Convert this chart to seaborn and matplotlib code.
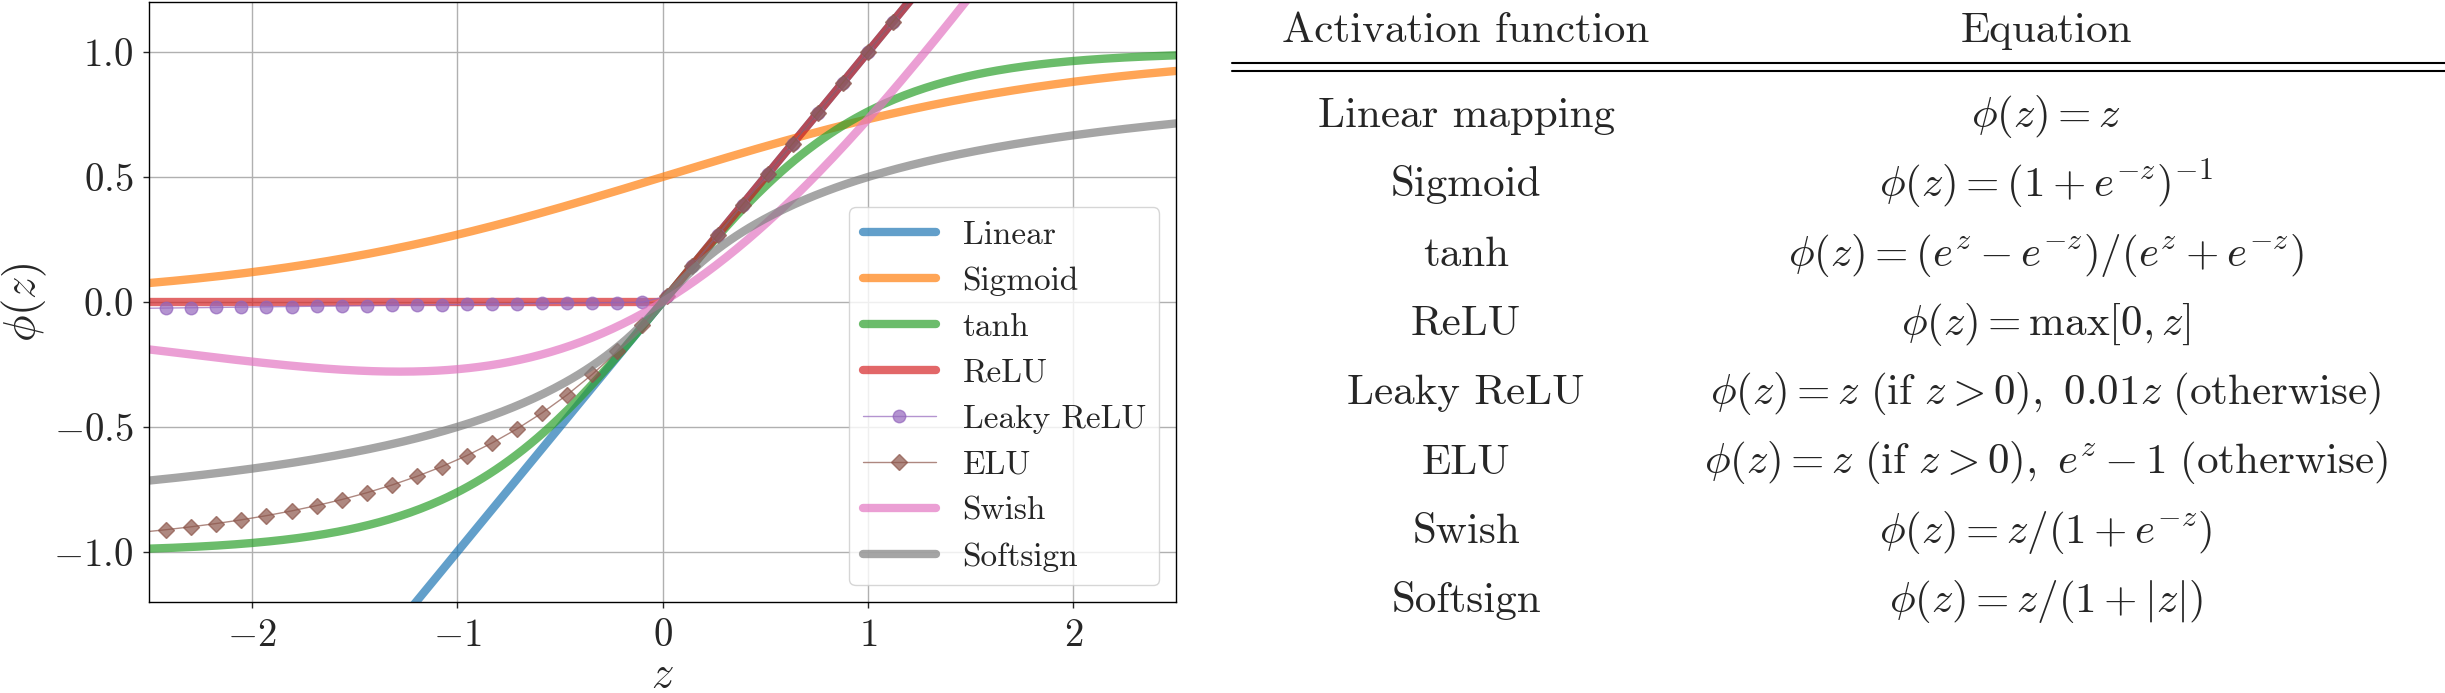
import numpy as np
import pandas as pd
import matplotlib
matplotlib.use("Agg")
import matplotlib.pyplot as plt
from matplotlib.lines import Line2D
import seaborn as sns

# input grid for the smooth curves and the marked (Leaky ReLU / ELU) curves
z = np.linspace(-2.5, 2.5, 300)
z_mark = 1.0 + 0.122 * np.arange(-30, 14)

labels = ["Linear", "Sigmoid", "tanh", "ReLU", "Leaky ReLU", "ELU", "Swish", "Softsign"]
colors = ["tab:blue", "tab:orange", "tab:green", "tab:red",
          "tab:purple", "tab:brown", "tab:pink", "tab:gray"]

table_names = ["Linear mapping", "Sigmoid", "tanh", "ReLU",
               "Leaky ReLU", "ELU", "Swish", "Softsign"]
table_eqs = [
    r"$\phi(z) = z$",
    r"$\phi(z) = (1 + e^{-z})^{-1}$",
    r"$\phi(z) = (e^z - e^{-z})/(e^z + e^{-z})$",
    r"$\phi(z) = \max[0, z]$",
    r"$\phi(z) = z\ (\mathrm{if}\ z > 0),\ 0.01z\ (\mathrm{otherwise})$",
    r"$\phi(z) = z\ (\mathrm{if}\ z > 0),\ e^z - 1\ (\mathrm{otherwise})$",
    r"$\phi(z) = z/(1 + e^{-z})$",
    r"$\phi(z) = z/(1 + |z|)$",
]

sig = 1 / (1 + np.exp(-z))
curves = {
    "Linear": (z, z),
    "Sigmoid": (z, sig),
    "tanh": (z, np.tanh(z)),
    "ReLU": (z, np.maximum(0, z)),
    "Leaky ReLU": (z_mark, np.where(z_mark > 0, z_mark, 0.01 * z_mark)),
    "ELU": (z_mark, np.where(z_mark > 0, z_mark, np.exp(z_mark) - 1)),
    "Swish": (z, z * sig),
    "Softsign": (z, z / (1 + np.abs(z))),
}

sns.set_style("ticks")
plt.rcParams["font.family"] = "serif"
plt.rcParams["font.serif"] = ["cmr10"]
plt.rcParams["mathtext.fontset"] = "cm"
plt.rcParams["axes.formatter.use_mathtext"] = True
plt.rcParams["axes.edgecolor"] = "black"
plt.rcParams["axes.linewidth"] = 1.0

W, H = 2445, 693
fig = plt.figure(figsize=(W / 100, H / 100), dpi=100)
ax = fig.add_axes([149 / W, 1 - 602 / H, (1176 - 149) / W, (602 - 2) / H])

for name, col in zip(labels, colors):
    x, y = curves[name]
    if name == "Leaky ReLU":
        sns.lineplot(x=x, y=y, ax=ax, color=col, lw=1.0, alpha=0.7, marker="o",
                     markersize=9, markeredgecolor=col, markeredgewidth=1,
                     label=name, sort=False)
    elif name == "ELU":
        sns.lineplot(x=x, y=y, ax=ax, color=col, lw=1.0, alpha=0.7, marker="D",
                     markersize=8, markeredgecolor=col, markeredgewidth=1,
                     label=name, sort=False)
    else:
        sns.lineplot(x=x, y=y, ax=ax, color=col, lw=6, alpha=0.7,
                     label=name, sort=False)

ax.set_xlim(-2.5, 2.5)
ax.set_ylim(-1.2, 1.2)
ax.set_xticks([-2, -1, 0, 1, 2])
ax.set_yticks([-1.0, -0.5, 0.0, 0.5, 1.0])
ax.yaxis.set_major_formatter(matplotlib.ticker.FormatStrFormatter(r"$%.1f$"))
ax.xaxis.set_major_formatter(matplotlib.ticker.FormatStrFormatter(r"$%d$"))
ax.tick_params(labelsize=28, length=4.3, width=1.0, pad=7)
ax.grid(True, color="#b0b0b0", lw=1.0)
ax.set_xlabel(r"$z$", fontsize=32, labelpad=2)
ax.set_ylabel(r"$\phi(z)$", fontsize=32, labelpad=3)
ax.legend(loc="lower right", fontsize=24, handlelength=2.2, framealpha=0.8)

# table on the right
col1, col2 = 1466 / W, 2046 / W
fig.text(col1, 1 - 42 / H, "Activation function", ha="center", va="baseline", fontsize=31)
fig.text(col2, 1 - 42 / H, "Equation", ha="center", va="baseline", fontsize=31)
for yy in [62.7, 70.7]:
    fig.add_artist(Line2D([1232 / W, 1.0], [1 - yy / H, 1 - yy / H],
                          transform=fig.transFigure, color="black", lw=1.5))
for i, (nm, eq) in enumerate(zip(table_names, table_eqs)):
    yb = 1 - (127 + 69.3 * i) / H
    fig.text(col1, yb, nm, ha="center", va="baseline", fontsize=31)
    fig.text(col2, yb, eq, ha="center", va="baseline", fontsize=31)

fig.savefig("out.png", dpi=100)
